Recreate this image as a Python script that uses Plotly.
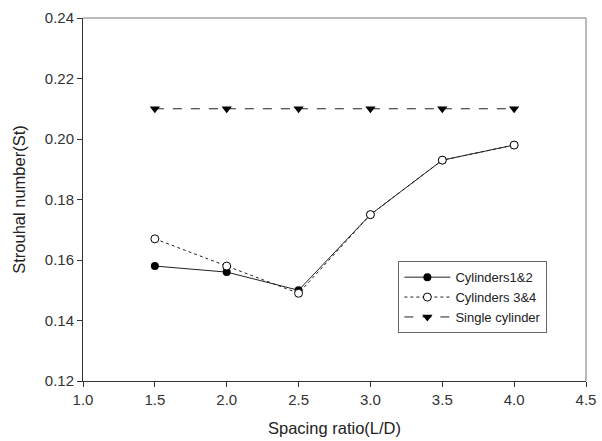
import plotly.graph_objects as go

x = [1.5, 2.0, 2.5, 3.0, 3.5, 4.0]
cyl12 = [0.158, 0.156, 0.150, 0.175, 0.193, 0.198]
cyl34 = [0.167, 0.158, 0.149, 0.175, 0.193, 0.198]
single = [0.210, 0.210, 0.210, 0.210, 0.210, 0.210]

x_ticks = [1.0, 1.5, 2.0, 2.5, 3.0, 3.5, 4.0, 4.5]
y_ticks = [0.12, 0.14, 0.16, 0.18, 0.20, 0.22, 0.24]

FONT = "Liberation Sans, Arial, sans-serif"

fig = go.Figure()
fig.add_trace(go.Scatter(x=x, y=cyl12, name="Cylinders1&2", mode="lines+markers",
                         line=dict(color="#222", width=1),
                         marker=dict(symbol="circle", size=8, color="black")))
fig.add_trace(go.Scatter(x=x, y=cyl34, name="Cylinders 3&4", mode="lines+markers",
                         line=dict(color="#222", width=1, dash="dot"),
                         marker=dict(symbol="circle", size=8, color="white",
                                     line=dict(color="black", width=1))))
fig.add_trace(go.Scatter(x=x, y=single, name="Single cylinder", mode="lines+markers",
                         line=dict(color="#222", width=1, dash="dash"),
                         marker=dict(symbol="triangle-down", size=9, color="black")))

axis_common = dict(showgrid=False, zeroline=False, showline=True, linecolor="#333",
                   linewidth=1, ticks="outside", ticklen=5, tickcolor="#333",
                   automargin=False,
                   tickfont=dict(family=FONT, size=15, color="#333"))

fig.update_xaxes(range=[1.0, 4.5], tickvals=x_ticks, ticktext=[f"{v:.1f}" for v in x_ticks],
                 title=dict(text="Spacing ratio(L/D)", font=dict(size=16.5, color="#222", family=FONT)),
                 mirror=False, **axis_common)
fig.update_yaxes(range=[0.12, 0.24], tickvals=y_ticks, ticktext=[f"{v:.2f}" for v in y_ticks],
                 title=dict(text="Strouhal number(St)", font=dict(size=16.5, color="#222", family=FONT)),
                 mirror=False, **axis_common)

# gray top/right frame
fig.add_shape(type="line", xref="paper", yref="paper", x0=0, x1=1, y0=1, y1=1,
              line=dict(color="#777", width=1))
fig.add_shape(type="line", xref="paper", yref="paper", x0=1, x1=1, y0=0, y1=1,
              line=dict(color="#777", width=1))

fig.update_layout(
    width=602, height=441,
    margin=dict(l=83, r=16, t=18, b=60),
    plot_bgcolor="white", paper_bgcolor="white",
    font=dict(family=FONT, color="#222"),
    legend=dict(x=0.627, y=0.33, xanchor="left", yanchor="top",
                bordercolor="#666", borderwidth=1, bgcolor="white",
                font=dict(size=13, color="#222"), traceorder="normal",
                tracegroupgap=0, itemwidth=46),
    showlegend=True,
)

fig.write_html("out.html", config={"displayModeBar": False},
               post_script="document.body.style.margin='0';")
